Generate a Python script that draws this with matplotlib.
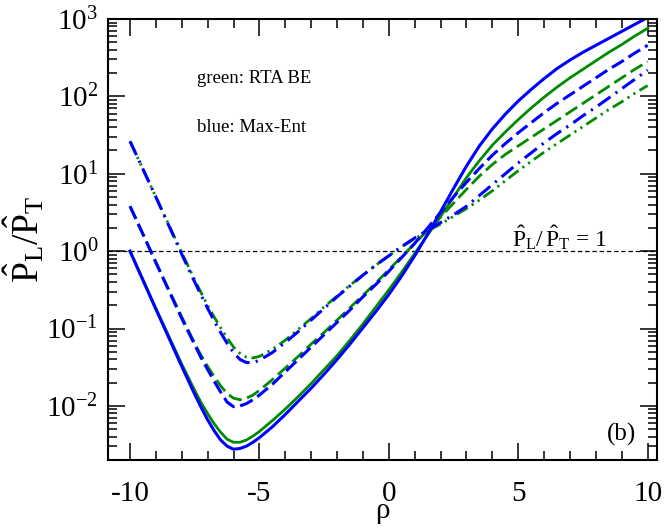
import numpy as np
import matplotlib
matplotlib.use('Agg')
import matplotlib.pyplot as plt
from matplotlib.ticker import LogLocator, MultipleLocator, NullFormatter

# rho grid and log10 of P_L/P_T
rho = [-10, -9.5, -9, -8.5, -8, -7.5, -7.25, -7, -6.75, -6.5, -6.25, -6, -5.75, -5.5, -5.25, -5,
       -4.5, -4, -3.5, -3, -2.5, -2, -1.5, -1, -0.5, 0, 0.5, 1, 1.5, 2, 2.5, 3, 3.5, 4, 4.5,
       5, 5.5, 6, 6.5, 7, 7.5, 8, 8.5, 9, 9.5, 10]

# green: RTA BE
green_solid = [0.0, -0.37, -0.74, -1.1, -1.46, -1.8, -1.96, -2.1, -2.23, -2.34, -2.43, -2.47, -2.47,
               -2.44, -2.39, -2.33, -2.19, -2.04, -1.88, -1.71, -1.53, -1.35, -1.15, -0.94, -0.72,
               -0.5, -0.27, -0.03, 0.21, 0.45, 0.7, 0.95, 1.17, 1.37, 1.54, 1.7, 1.85, 1.99, 2.12,
               2.24, 2.35, 2.46, 2.57, 2.67, 2.78, 2.88]
green_dashed = [0.58, 0.22, -0.14, -0.5, -0.85, -1.19, -1.35, -1.49, -1.62, -1.74, -1.84, -1.9, -1.92,
                -1.9, -1.86, -1.8, -1.66, -1.51, -1.36, -1.2, -1.05, -0.89, -0.73, -0.57, -0.41,
                -0.24, -0.07, 0.1, 0.27, 0.44, 0.62, 0.8, 0.97, 1.12, 1.25, 1.36, 1.47, 1.58, 1.69,
                1.8, 1.91, 2.02, 2.13, 2.24, 2.35, 2.45]
green_dashdotdot = [1.42, 1.06, 0.7, 0.34, -0.02, -0.37, -0.54, -0.7, -0.85, -0.99, -1.12, -1.24, -1.32,
                    -1.37, -1.38, -1.36, -1.27, -1.15, -1.01, -0.87, -0.72, -0.58, -0.44, -0.31, -0.18,
                    -0.06, 0.06, 0.16, 0.26, 0.35, 0.45, 0.55, 0.66, 0.78, 0.91, 1.04, 1.16, 1.28, 1.39,
                    1.5, 1.61, 1.72, 1.83, 1.93, 2.04, 2.14]

# blue: Max-Ent
blue_solid = [0.0, -0.375, -0.75, -1.12, -1.49, -1.85, -2.02, -2.18, -2.32, -2.44, -2.52, -2.56, -2.55,
              -2.52, -2.47, -2.41, -2.27, -2.11, -1.94, -1.77, -1.59, -1.4, -1.2, -0.99, -0.78,
              -0.56, -0.32, -0.06, 0.22, 0.51, 0.81, 1.1, 1.36, 1.58, 1.77, 1.94, 2.09, 2.23, 2.36,
              2.47, 2.57, 2.66, 2.75, 2.84, 2.93, 3.02]
blue_dashed = [0.58, 0.22, -0.15, -0.51, -0.87, -1.21, -1.38, -1.53, -1.68, -1.82, -1.95, -2.01, -2.0,
               -1.97, -1.92, -1.86, -1.72, -1.56, -1.4, -1.24, -1.08, -0.92, -0.76, -0.59, -0.43,
               -0.26, -0.08, 0.1, 0.3, 0.5, 0.7, 0.89, 1.07, 1.24, 1.39, 1.53, 1.66, 1.79, 1.91,
               2.02, 2.13, 2.24, 2.35, 2.45, 2.56, 2.66]
blue_dashdot = [1.42, 1.06, 0.7, 0.33, -0.04, -0.4, -0.57, -0.74, -0.9, -1.05, -1.19, -1.31, -1.4,
                -1.44, -1.44, -1.41, -1.31, -1.18, -1.04, -0.89, -0.74, -0.59, -0.45, -0.31, -0.18,
                -0.06, 0.06, 0.17, 0.27, 0.37, 0.47, 0.58, 0.72, 0.86, 1.0, 1.14, 1.27, 1.4, 1.52,
                1.63, 1.75, 1.86, 1.98, 2.1, 2.22, 2.34]

x_ticks = [-10, -5, 0, 5, 10]

plt.rcParams['font.family'] = 'Liberation Serif'
plt.rcParams['mathtext.fontset'] = 'custom'
plt.rcParams['mathtext.rm'] = 'Liberation Serif'
plt.rcParams['mathtext.it'] = 'Liberation Serif:italic'
plt.rcParams['lines.scale_dashes'] = False

green = '#008c00'
blue = '#0000ff'

fig = plt.figure(figsize=(6.64, 5.29), dpi=100)
ax = fig.add_axes([108 / 664, 1 - 460 / 529, 549 / 664, 441 / 529])

x = np.array(rho)
ax.axhline(1.0, color='black', lw=0.9, dashes=(3.2, 2.0))

ax.plot(x, 10 ** np.array(green_solid), color=green, lw=2.0)
ax.plot(x, 10 ** np.array(green_dashed), color=green, lw=2.0, dashes=(10, 4))
ax.plot(x, 10 ** np.array(green_dashdotdot), color=green, lw=2.0,
        dashes=(9, 3.5, 1.6, 3.5, 1.6, 3.5))
ax.plot(x, 10 ** np.array(blue_solid), color=blue, lw=2.2)
ax.plot(x, 10 ** np.array(blue_dashed), color=blue, lw=2.2, dashes=(10, 4))
ax.plot(x, 10 ** np.array(blue_dashdot), color=blue, lw=2.2, dashes=(11, 4.5, 1.6, 4.5))

ax.set_yscale('log')
ax.set_xlim(-10.85, 10.36)
ax.set_ylim(2e-3, 1e3)
ax.set_xticks(x_ticks)
ax.set_xticklabels([str(t) for t in x_ticks])
ax.xaxis.set_minor_locator(MultipleLocator(1))
ax.yaxis.set_major_locator(LogLocator(base=10, numticks=20))
ax.yaxis.set_minor_locator(LogLocator(base=10, subs=np.arange(2, 10), numticks=20))
ax.yaxis.set_minor_formatter(NullFormatter())

ax.tick_params(which='both', direction='in', top=True, right=True, labelsize=21, width=1.1)
ax.tick_params(which='major', length=12.5, pad=7)
ax.tick_params(axis='x', which='major', pad=15)
ax.tick_params(which='minor', length=6.3)
for sp in ax.spines.values():
    sp.set_linewidth(1.5)

ax.set_xlabel('ρ', fontsize=21, labelpad=-6)
ax.set_ylabel(r'$\hat{\mathrm{P}}_{\mathrm{L}}/\hat{\mathrm{P}}_{\mathrm{T}}$', fontsize=27, labelpad=0)

ax.text(0.162, 0.866, 'green: RTA BE', transform=ax.transAxes, fontsize=13.5, va='center')
ax.text(0.162, 0.755, 'blue: Max-Ent', transform=ax.transAxes, fontsize=13.5, va='center')
ax.text(0.936, 0.057, '(b)', transform=ax.transAxes, fontsize=18, va='center', ha='center')
ax.text(0.736, 0.483, r'$\hat{\mathrm{P}}_{\mathrm{L}}/\,\hat{\mathrm{P}}_{\mathrm{T}}$ = 1',
        transform=ax.transAxes, fontsize=17, va='baseline')

fig.savefig('out.png', dpi=100)
